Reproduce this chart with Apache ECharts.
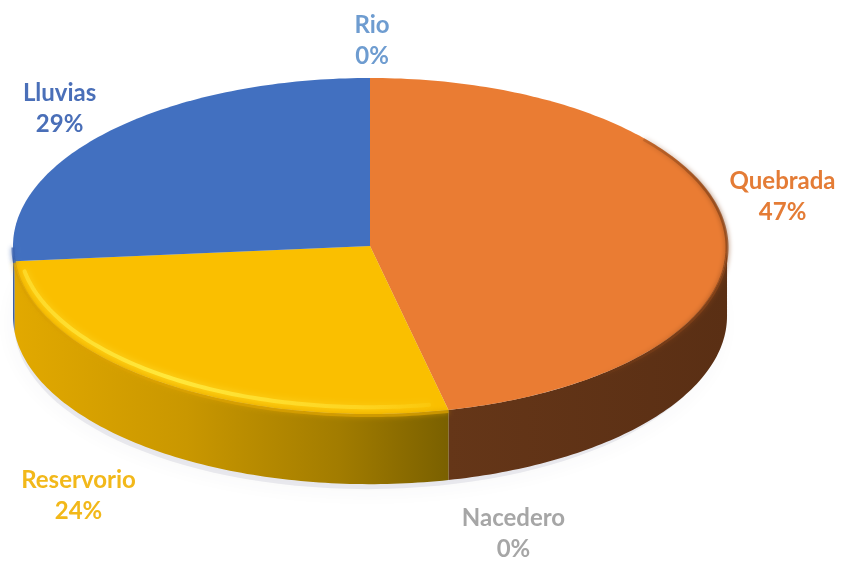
<!DOCTYPE html>
<html>
<head>
<meta charset="utf-8">
<script src="https://cdn.jsdelivr.net/npm/echarts@6.0.0/dist/echarts.min.js"></script>
<style>
  html, body { margin: 0; padding: 0; background: #ffffff; }
  #chart { width: 844px; height: 561px; }
</style>
</head>
<body>
<div id="chart"></div>
<script>
// Water sources, clockwise from 12 o'clock
const categories = ['Quebrada', 'Nacedero', 'Reservorio', 'Lluvias', 'Rio'];
const shares = [47, 0, 24, 29, 0];

// Styling per slice
const topColors = ['#EA7C33', '#A5A5A5', '#FABF00', '#4270C0', '#5B9BD5'];
const labelColors = ['#E47C36', '#A6A6A6', '#F2B81A', '#4A6FB8', '#6E9CD0'];
const edgeShade = ['#8A4519', '#777777', '#D9A000', '#3A62AE', '#4A86C0'];
// Label placement relative to the rim point at each slice's middle
const labelNudge = [[67, -7], [65, 54], [-73, 47], [-57, -19], [2, -37]];

const total = shares.reduce((a, b) => a + b, 0);
const starts = [];
let acc = 0;
shares.forEach(v => { starts.push(acc); acc += v; });

// Perspective: the far half of the disc looks compressed, the near half stretched
const PERSP = 0.85;
const DEG = Math.PI / 180;
function warp(frac) {
  const half = frac * Math.PI;
  return 2 * Math.atan2(PERSP * Math.sin(half), Math.cos(half));
}

function sideFill(i) {
  if (i === 0) {
    return new echarts.graphic.LinearGradient(448, 0, 728, 0, [
      { offset: 0, color: '#653618' },
      { offset: 1, color: '#5A2F14' }
    ], true);
  }
  if (i === 2) {
    return new echarts.graphic.LinearGradient(13, 0, 448, 0, [
      { offset: 0, color: '#E2A900' },
      { offset: 0.4, color: '#C99700' },
      { offset: 0.75, color: '#A27C00' },
      { offset: 1, color: '#7A6000' }
    ], true);
  }
  if (i === 3) {
    return '#3A5FA8';
  }
  return '#555';
}

function edgeStroke(i) {
  if (i === 0) {
    // the shading fades in toward the right-hand edge
    return new echarts.graphic.LinearGradient(590, 0, 715, 0, [
      { offset: 0, color: 'rgba(138,69,25,0)' },
      { offset: 1, color: 'rgba(138,69,25,1)' }
    ], true);
  }
  return edgeShade[i];
}

// light catch along the bevel of the front yellow slice, fading toward the right
const bevelLight = new echarts.graphic.LinearGradient(20, 0, 445, 0, [
  { offset: 0, color: 'rgba(255,229,58,0.6)' },
  { offset: 0.35, color: 'rgba(255,232,60,1)' },
  { offset: 0.8, color: 'rgba(255,225,50,0.55)' },
  { offset: 1, color: 'rgba(255,220,40,0.15)' }
], true);

function renderItem(params, api) {
  const i = params.dataIndex;
  const W = api.getWidth(), H = api.getHeight();
  const cx = W * 0.4384, cy = H * 0.4385;
  const rx = W * 0.423, ry = H * 0.2995, depth = H * 0.125;
  const v = api.value(1);
  const a0 = warp(starts[i] / total);
  const a1 = warp((starts[i] + v) / total);

  const P = (a, dy, shrink) => {
    const k = shrink || 0;
    return [cx + (rx - k) * Math.sin(a), cy - (ry - k * ry / rx) * Math.cos(a) + (dy || 0)];
  };
  const arc = (from, to, dy, shrink) => {
    const n = Math.max(2, Math.ceil(Math.abs(to - from) / DEG));
    const pts = [];
    for (let k = 0; k <= n; k++) pts.push(P(from + (to - from) * k / n, dy, shrink));
    return pts;
  };

  const children = [];

  if (i === 0) {
    // soft ground shadow under the disc
    children.push({
      type: 'ellipse',
      shape: { cx: cx - 3, cy: cy + depth + 7, rx: rx - 4, ry: ry - 2 },
      style: { fill: 'rgba(170,170,185,0.22)', shadowBlur: 22, shadowColor: 'rgba(60,60,80,0.22)' },
      z2: 0
    });
  }

  if (v > 0) {
    const f0 = Math.max(a0, Math.PI / 2), f1 = Math.min(a1, 1.5 * Math.PI);
    if (f1 > f0) {
      children.push({
        type: 'polygon',
        shape: { points: arc(f0, f1, 0).concat(arc(f1, f0, depth)) },
        style: { fill: sideFill(i) },
        z2: 1
      });
    }
    children.push({
      type: 'polygon',
      shape: { points: [[cx, cy]].concat(arc(a0, a1, 0)) },
      style: { fill: topColors[i] },
      z2: 2
    });
    // bevelled rim: shaded outer edge ...
    const r0 = Math.max(a0, i === 0 ? 50 * DEG : 90 * DEG);
    const r1 = Math.min(a1, 270 * DEG);
    if (r1 > r0) {
      children.push({
        type: 'polyline',
        shape: { points: arc(r0, r1, 1.5) },
        style: { stroke: edgeStroke(i), lineWidth: 3, fill: null, shadowBlur: 5, shadowColor: edgeShade[i], opacity: 0.75 },
        z2: 3
      });
      if (i === 2) {
        children.push({
          type: 'polyline',
          shape: { points: arc(r0 + 3 * DEG, r1 - 5 * DEG, -4, 6) },
          style: { stroke: bevelLight, lineWidth: 4, fill: null, shadowBlur: 7, shadowColor: 'rgba(255,228,60,0.8)', lineCap: 'round' },
          z2: 4
        });
      }
    }
  }

  const am = warp((starts[i] + v / 2) / total);
  const anchor = P(am, Math.cos(am) < 0 ? depth : 0);
  const pct = Math.round(v / total * 100);
  children.push({
    type: 'text',
    x: anchor[0] + labelNudge[i][0],
    y: anchor[1] + labelNudge[i][1],
    style: {
      text: categories[i] + '\n' + pct + '%',
      fill: labelColors[i],
      fontFamily: 'Lato',
      fontWeight: 'bold',
      fontSize: 24,
      lineHeight: 31,
      align: 'center',
      verticalAlign: 'middle'
    },
    z2: 10
  });

  return { type: 'group', children: children };
}

const chart = echarts.init(document.getElementById('chart'));
chart.setOption({
  backgroundColor: '#ffffff',
  animation: false,
  series: [{
    type: 'custom',
    coordinateSystem: 'none',
    renderItem: renderItem,
    data: categories.map((c, i) => [i, shares[i]])
  }]
});
</script>
</body>
</html>
